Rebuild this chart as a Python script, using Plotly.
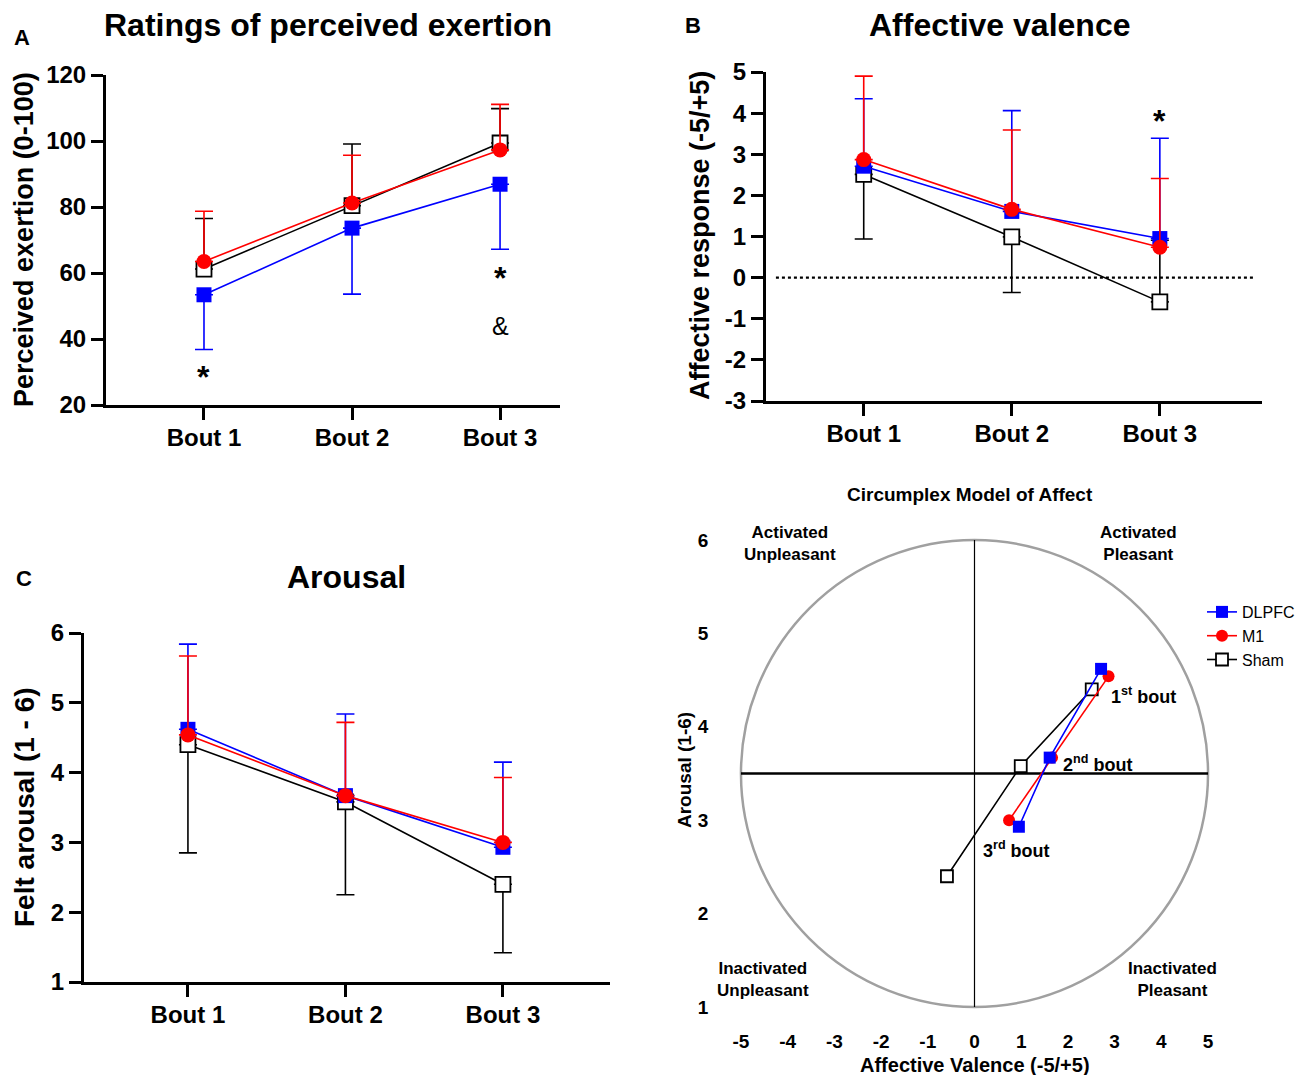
import plotly.graph_objects as go

# ---------------- data ----------------
bouts = ["Bout 1", "Bout 2", "Bout 3"]

# A: Ratings of perceived exertion (mean, SD)
rpe_dlpfc = [53.4, 73.6, 86.9]
rpe_dlpfc_sd = [16.6, 20.0, 19.7]      # drawn downward
rpe_m1 = [63.5, 81.2, 97.3]
rpe_m1_sd = [15.2, 14.5, 13.8]         # drawn upward
rpe_sham = [61.2, 80.4, 99.4]
rpe_sham_sd = [15.3, 18.7, 10.4]       # drawn upward
rpe_ticks = [20, 40, 60, 80, 100, 120]

# B: Affective valence (mean, SD)
val_dlpfc = [2.71, 1.61, 0.95]
val_dlpfc_sd = [1.64, 2.45, 2.44]      # upward
val_m1 = [2.87, 1.66, 0.74]
val_m1_sd = [2.03, 1.93, 1.67]         # upward
val_sham = [2.51, 0.99, -0.59]
val_sham_sd_up = [0.0, 0.0, 1.5]
val_sham_sd_down = [1.57, 1.35, 0.0]
val_ticks = [-3, -2, -1, 0, 1, 2, 3, 4, 5]

# C: Felt arousal (mean, SD)
aro_dlpfc = [4.62, 3.67, 2.93]
aro_dlpfc_sd = [1.22, 1.17, 1.22]      # upward
aro_m1 = [4.54, 3.67, 3.00]
aro_m1_sd = [1.13, 1.05, 0.93]         # upward
aro_sham = [4.40, 3.58, 2.40]
aro_sham_sd = [1.55, 1.33, 0.98]       # downward
aro_ticks = [1, 2, 3, 4, 5, 6]

# D labels
bout_labels = ["1<sup>st</sup> bout", "2<sup>nd</sup> bout", "3<sup>rd</sup> bout"]
quadrant_labels = ["Activated<br>Unpleasant", "Activated<br>Pleasant",
                   "Inactivated<br>Unpleasant", "Inactivated<br>Pleasant"]
valence_ticks = [-5, -4, -3, -2, -1, 0, 1, 2, 3, 4, 5]
arousal_ticks = [1, 2, 3, 4, 5, 6]

BLUE = "#0000ff"
RED = "#ff0000"
BLACK = "#000000"
FONT = "Liberation Sans, Arial, sans-serif"
NARROW = "Liberation Sans Narrow, Liberation Sans, Arial, sans-serif"

W, H = 1309, 1075
OFF = 8  # page body margin


def px(p):
    return (p - OFF) / W


def py(p):
    return 1 - (p - OFF) / H


fig = go.Figure()

zeros = [0, 0, 0]


def add_series(x, y, xa, ya, color, symbol, up, down, fill, size=15, show=False, name=None, rank=None):
    fig.add_trace(go.Scatter(
        x=x, y=y, xaxis=xa, yaxis=ya, mode="lines+markers",
        name=name, showlegend=show, legendrank=rank,
        line=dict(color=color, width=1.6),
        marker=dict(symbol=symbol, size=size, color=fill,
                    line=dict(color=color, width=1.8 if fill == "white" else 0)),
        error_y=dict(type="data", symmetric=False, array=up, arrayminus=down,
                     color=color, thickness=1.6, width=9, visible=up is not None),
        cliponaxis=False,
    ))


# Panel A
add_series(bouts, rpe_sham, "x", "y", BLACK, "square", rpe_sham_sd, zeros, "white")
add_series(bouts, rpe_dlpfc, "x", "y", BLUE, "square", zeros, rpe_dlpfc_sd, BLUE)
add_series(bouts, rpe_m1, "x", "y", RED, "circle", rpe_m1_sd, zeros, RED)

# Panel B
add_series(bouts, val_sham, "x2", "y2", BLACK, "square", val_sham_sd_up, val_sham_sd_down, "white")
add_series(bouts, val_dlpfc, "x2", "y2", BLUE, "square", val_dlpfc_sd, zeros, BLUE)
add_series(bouts, val_m1, "x2", "y2", RED, "circle", val_m1_sd, zeros, RED)

# Panel C
add_series(bouts, aro_sham, "x3", "y3", BLACK, "square", zeros, aro_sham_sd, "white")
add_series(bouts, aro_dlpfc, "x3", "y3", BLUE, "square", aro_dlpfc_sd, zeros, BLUE)
add_series(bouts, aro_m1, "x3", "y3", RED, "circle", aro_m1_sd, zeros, RED)

# Panel D (circumplex)
add_series(val_sham, aro_sham, "x4", "y4", BLACK, "square", None, None, "white", size=12,
           show=True, name="Sham", rank=3)
add_series(val_m1, aro_m1, "x4", "y4", RED, "circle", None, None, RED, size=12,
           show=True, name="M1", rank=2)
add_series(val_dlpfc, aro_dlpfc, "x4", "y4", BLUE, "square", None, None, BLUE, size=12,
           show=True, name="DLPFC", rank=1)

axis_common = dict(showgrid=False, zeroline=False, showline=True, linecolor=BLACK,
                   linewidth=3, ticks="outside", ticklen=12, tickwidth=3, tickcolor=BLACK,
                   automargin=False,
                   tickfont=dict(family=FONT, size=24, color=BLACK, weight="bold"))

cat_axis = dict(type="category", categoryorder="array", categoryarray=bouts, ticklabelstandoff=-3)


def tick_axis(vals):
    return dict(tickvals=vals, ticktext=[str(v) for v in vals])


fig.update_layout(
    width=W, height=H, margin=dict(l=0, r=0, t=0, b=0, autoexpand=False),
    paper_bgcolor="white", plot_bgcolor="white",
    font=dict(family=FONT, color=BLACK),
    xaxis=dict(domain=[px(106), px(560)], range=[-0.662, 2.405], anchor="y", **cat_axis, **axis_common),
    yaxis=dict(domain=[py(405), py(75)], range=[20, 120], anchor="x", **tick_axis(rpe_ticks), **axis_common),
    xaxis2=dict(domain=[px(766), px(1262)], range=[-0.66, 2.69], anchor="y2", **cat_axis, **axis_common),
    yaxis2=dict(domain=[py(401), py(72)], range=[-3, 5], anchor="x2", **tick_axis(val_ticks), **axis_common),
    xaxis3=dict(domain=[px(84), px(610)], range=[-0.66, 2.68], anchor="y3", **cat_axis, **axis_common),
    yaxis3=dict(domain=[py(982), py(633)], range=[1, 6], anchor="x3", **tick_axis(aro_ticks), **axis_common),
    xaxis4=dict(domain=[px(736.3), px(1212.7)], range=[-5.1, 5.1], anchor="y4",
                showgrid=False, zeroline=False, showline=False, ticks="", automargin=False,
                ticklabelstandoff=16, **tick_axis(valence_ticks),
                tickfont=dict(family=NARROW, size=19, color=BLACK, weight="bold")),
    yaxis4=dict(domain=[py(1011.7), py(535.3)], range=[0.95, 6.05], anchor="x4",
                showgrid=False, zeroline=False, showline=False, ticks="", automargin=False,
                ticklabelstandoff=27, **tick_axis(arousal_ticks),
                tickfont=dict(family=NARROW, size=19, color=BLACK, weight="bold")),
    legend=dict(x=px(1202), y=py(595), xanchor="left", yanchor="top",
                font=dict(family=FONT, size=16, color=BLACK), itemwidth=30,
                bgcolor="rgba(0,0,0,0)", tracegroupgap=0),
    showlegend=True,
)

# reference lines / circle for panel D, dotted zero line for B
fig.add_shape(type="line", xref="x2 domain", yref="y2", x0=0.02, x1=0.985, y0=0, y1=0,
              line=dict(color=BLACK, width=2.2, dash="dot"))
fig.add_shape(type="circle", xref="x4", yref="y4", x0=-5, x1=5, y0=1, y1=6,
              line=dict(color="#a0a0a0", width=2.5), layer="below")
fig.add_shape(type="line", xref="x4", yref="y4", x0=-5, x1=5, y0=3.5, y1=3.5,
              line=dict(color=BLACK, width=2.5), layer="below")
fig.add_shape(type="line", xref="x4", yref="y4", x0=0, x1=0, y0=1, y1=6,
              line=dict(color=BLACK, width=1.2), layer="below")

ann = []


def text(x, y, t, size, bold=True, angle=0, family=FONT, xref="paper", yref="paper", **kw):
    ann.append(dict(x=x, y=y, xref=xref, yref=yref, text=f"<b>{t}</b>" if bold else t,
                    showarrow=False, textangle=angle, xanchor="center", yanchor="middle",
                    font=dict(family=family, size=size, color=BLACK), **kw))


# panel letters & titles
text(px(22), py(37), "A", 22)
text(px(693), py(25), "B", 22)
text(px(24), py(578), "C", 22)
text(px(328), py(25), "Ratings of perceived exertion", 32)
text(px(999), py(25), "Affective valence", 32)
text(px(346), py(577), "Arousal", 32)
text(px(970), py(494), "Circumplex Model of Affect", 19, family=NARROW)

# axis titles
text(px(24), py(240), "Perceived exertion (0-100)", 27, angle=-90)
text(px(700), py(236), "Affective response (-5/+5)", 27, angle=-90)
text(px(24), py(807), "Felt arousal (1 - 6)", 28, angle=-90)
text(px(684), py(770), "Arousal (1-6)", 19, angle=-90, family=NARROW)
text(px(975), py(1065), "Affective Valence (-5/+5)", 20, family=NARROW)

# significance markers
text("Bout 1", 28.5, "*", 32, xref="x", yref="y")
text("Bout 3", 58.5, "*", 32, xref="x", yref="y")
text("Bout 3", 44, "&amp;", 25, bold=False, xref="x", yref="y")
text("Bout 3", 3.8, "*", 32, xref="x2", yref="y2")

# circumplex labels
text(px(790), py(543), quadrant_labels[0], 17, family=NARROW)
text(px(1138), py(543), quadrant_labels[1], 17, family=NARROW)
text(px(763), py(979), quadrant_labels[2], 17, family=NARROW)
text(px(1172), py(979), quadrant_labels[3], 17, family=NARROW)
text(px(1143), py(695), bout_labels[0], 18, family=NARROW)
text(px(1097), py(763), bout_labels[1], 18, family=NARROW)
text(px(1017), py(849), bout_labels[2], 18, family=NARROW)

fig.update_layout(annotations=ann)
fig.write_html("out.html")
